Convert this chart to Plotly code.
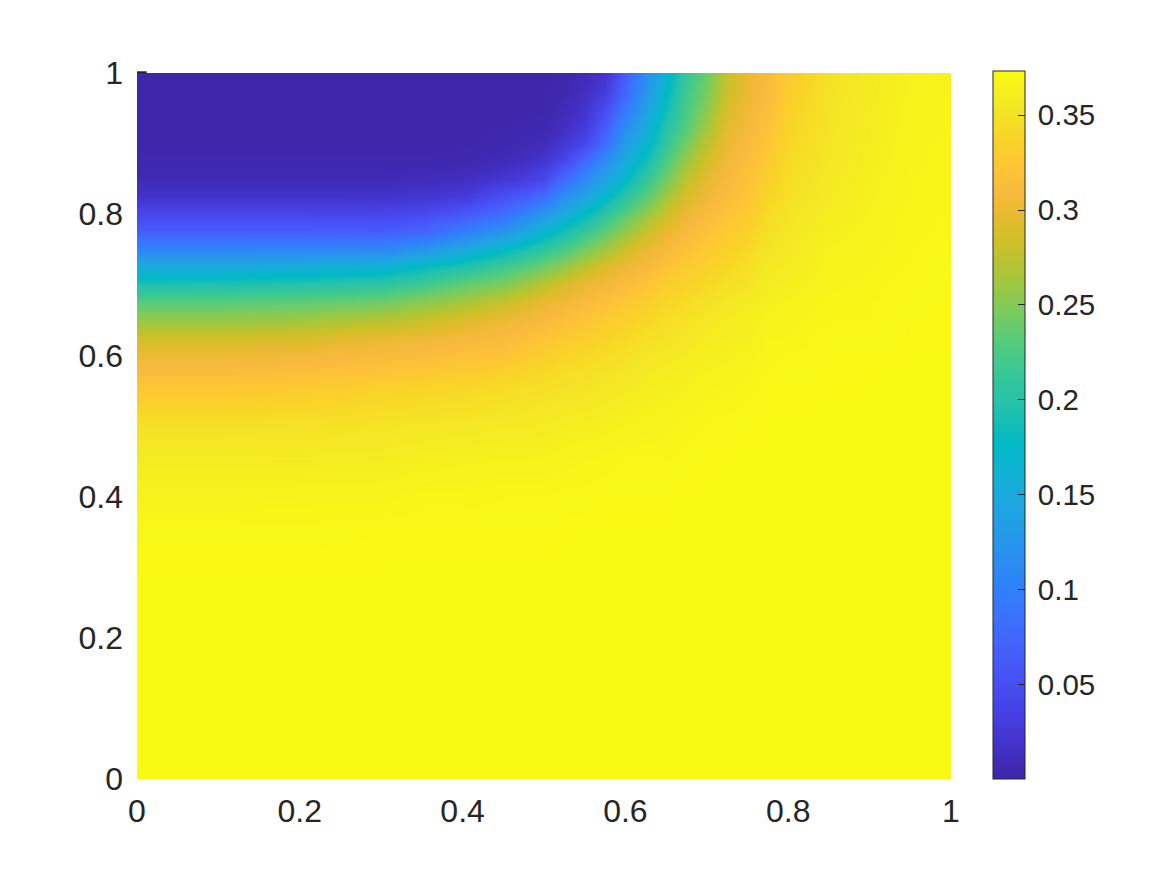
import numpy as np
import plotly.graph_objects as go

# grid, finer where the colours change fast
y_vals = [1, .975, .95, .925, .9, .875, .85, .825, .8, .775, .75, .725, .7, .675,
          .65, .625, .6, .575, .55, .5, .45, .4, .35, .3, .2, .1, 0]
x_vals = [0, .1, .2, .3, .35, .4, .45, .475, .5, .525, .55, .575, .6, .625, .65, .675, .7,
          .725, .75, .775, .8, .85, .9, .95, 1]

# one list per x, top of the plot first
z_x000 = [.002, .002, .002, .002, .002, .003, .007, .02, .041, .0675, .108, .153, .195, .231, .258, .284, .302, .312, .327, .35, .36, .366, .371, .373, .3735, .3735, .3735]
z_x010 = [.002, .002, .002, .002, .002, .003, .007, .02, .041, .0675, .108, .153, .196, .232, .258, .284, .302, .312, .327, .35, .36, .366, .371, .373, .3735, .3735, .3735]
z_x020 = [.002, .002, .002, .002, .002, .003, .007, .02, .041, .0675, .109, .156, .2, .235, .262, .289, .304, .316, .33, .351, .36, .367, .371, .373, .3735, .3735, .3735]
z_x030 = [.002, .002, .002, .002, .002, .003, .007, .02, .04, .066, .11, .164, .207, .242, .272, .299, .31, .322, .338, .353, .361, .367, .372, .373, .3735, .3735, .3735]
z_x035 = [.002, .002, .002, .002, .002, .003, .009, .023, .046, .073, .126, .18, .22, .253, .28, .302, .312, .327, .34, .355, .363, .369, .372, .3735, .3735, .3735, .3735]
z_x040 = [.002, .002, .002, .002, .002, .004, .013, .029, .059, .099, .15, .197, .237, .265, .292, .306, .317, .33, .343, .356, .364, .369, .372, .3735, .3735, .3735, .3735]
z_x045 = [.002, .002, .002, .002, .004, .008, .023, .052, .082, .123, .177, .218, .25, .279, .301, .311, .32, .335, .347, .358, .365, .37, .372, .3735, .3735, .3735, .3735]
z_x0475 = [.002, .002, .002, .003, .006, .014, .031, .065, .103, .145, .193, .231, .262, .29, .305, .316, .326, .339, .349, .358, .365, .37, .372, .3735, .3735, .3735, .3735]
z_x050 = [.002, .002, .002, .004, .01, .023, .042, .082, .126, .168, .209, .244, .274, .3, .309, .321, .332, .343, .35, .359, .365, .37, .372, .3735, .3735, .3735, .3735]
z_x0525 = [.003, .004, .008, .013, .024, .042, .079, .118, .153, .19, .225, .258, .289, .304, .315, .327, .338, .347, .352, .361, .367, .371, .373, .3735, .3735, .3735, .3735]
z_x055 = [.008, .013, .02, .027, .045, .078, .11, .143, .177, .213, .246, .276, .301, .31, .322, .332, .342, .349, .353, .362, .368, .371, .373, .3735, .3735, .3735, .3735]
z_x0575 = [.018, .03, .046, .063, .082, .113, .143, .173, .205, .236, .264, .292, .305, .317, .329, .337, .346, .352, .356, .363, .369, .372, .3735, .3735, .3735, .3735, .3735]
z_x060 = [.065, .073, .092, .113, .133, .154, .175, .204, .232, .258, .284, .302, .312, .325, .334, .343, .349, .354, .358, .365, .37, .372, .3735, .3735, .3735, .3735, .3735]
z_x0625 = [.115, .125, .138, .153, .168, .188, .21, .233, .257, .281, .3, .308, .322, .332, .341, .349, .354, .358, .361, .366, .37, .372, .3735, .3735, .3735, .3735, .3735]
z_x065 = [.165, .174, .185, .198, .212, .226, .243, .263, .282, .3, .307, .32, .331, .34, .347, .351, .356, .36, .363, .367, .37, .372, .3735, .3735, .3735, .3735, .3735]
z_x0675 = [.212, .218, .224, .23, .245, .26, .275, .289, .302, .308, .319, .329, .337, .345, .351, .355, .359, .362, .365, .369, .371, .3735, .3735, .3735, .3735, .3735, .3735]
z_x070 = [.24, .246, .254, .264, .276, .287, .298, .304, .31, .319, .327, .335, .343, .35, .356, .359, .362, .365, .367, .37, .372, .3735, .3735, .3735, .3735, .3735, .3735]
z_x0725 = [.28, .283, .288, .295, .301, .305, .308, .313, .321, .328, .335, .342, .349, .355, .359, .361, .364, .366, .368, .371, .373, .3735, .3735, .3735, .3735, .3735, .3735]
z_x075 = [.30, .301, .303, .306, .31, .314, .319, .323, .328, .336, .342, .349, .353, .358, .361, .363, .366, .368, .369, .372, .3735, .3735, .3735, .3735, .3735, .3735, .3735]
z_x0775 = [.31, .312, .315, .319, .323, .328, .333, .339, .345, .349, .353, .357, .36, .363, .366, .368, .369, .37, .372, .373, .3735, .3735, .3735, .3735, .3735, .3735, .3735]
z_x080 = [.327, .33, .334, .338, .341, .344, .346, .349, .352, .355, .357, .359, .362, .365, .367, .368, .37, .371, .372, .3735, .3735, .3735, .3735, .3735, .3735, .3735, .3735]
z_x085 = [.35, .351, .352, .353, .354, .355, .357, .358, .36, .363, .365, .366, .367, .369, .37, .371, .372, .372, .373, .3735, .3735, .3735, .3735, .3735, .3735, .3735, .3735]
z_x090 = [.358, .359, .36, .36, .361, .362, .363, .364, .365, .366, .367, .368, .369, .37, .37, .371, .372, .373, .373, .3735, .3735, .3735, .3735, .3735, .3735, .3735, .3735]
z_x095 = [.365, .365, .366, .366, .367, .367, .368, .368, .369, .369, .37, .37, .371, .371, .372, .372, .373, .373, .3735, .3735, .3735, .3735, .3735, .3735, .3735, .3735, .3735]
z_x100 = [.367, .367, .368, .368, .369, .369, .37, .37, .37, .371, .371, .372, .372, .372, .373, .373, .373, .3735, .3735, .3735, .3735, .3735, .3735, .3735, .3735, .3735, .3735]

z_cols = [z_x000, z_x010, z_x020, z_x030, z_x035, z_x040, z_x045, z_x0475, z_x050, z_x0525, z_x055, z_x0575,
          z_x060, z_x0625, z_x065, z_x0675, z_x070, z_x0725, z_x075, z_x0775, z_x080, z_x085,
          z_x090, z_x095, z_x100]
z = np.array(z_cols).T

xticks = [0, .2, .4, .6, .8, 1]
yticks = [0, .2, .4, .6, .8, 1]
ticktext = ["0", "0.2", "0.4", "0.6", "0.8", "1"]
cticks = [.05, .1, .15, .2, .25, .3, .35]
# thin space keeps the labels off the bar like in the reference
cticktext = ["\u20090.05", "\u20090.1", "\u20090.15", "\u20090.2", "\u20090.25", "\u20090.3", "\u20090.35"]

# parula
parula_pos = [0, 3, 6, 9, 12, 15, 18, 21, 24, 27, 30, 33, 36, 39, 42, 45, 48, 51, 52, 54, 57, 60, 63]
parula_rgb = [
    (.2422, .1504, .6603), (.2647, .1978, .7952), (.2783, .2559, .8991), (.2810, .3228, .9579),
    (.2699, .3892, .9906), (.2206, .4603, .9973), (.1786, .5289, .9682), (.1540, .5902, .9218),
    (.1248, .6459, .8883), (.0689, .6948, .8394), (.0067, .7312, .7660), (.1408, .7584, .6842),
    (.2161, .7843, .5923), (.3406, .8008, .4789), (.5044, .7993, .3480), (.6720, .7793, .2227),
    (.8203, .7498, .1535), (.9393, .7288, .2100), (.9728, .7298, .2394), (.9970, .7659, .2199),
    (.9786, .8317, .1537), (.9597, .9135, .1423), (.9769, .9839, .0805),
]
parula = [[p / 63, "rgb(%d,%d,%d)" % (r * 255, g * 255, b * 255)]
          for p, (r, g, b) in zip(parula_pos, parula_rgb)]

fig = go.Figure()
fig.add_trace(go.Heatmap(
    x=x_vals, y=y_vals, z=z, zsmooth="best", colorscale=parula, zmin=0.0005, zmax=0.3735,
    colorbar=dict(
        thickness=32, thicknessmode="pixels", len=708, lenmode="pixels",
        x=1.0522, xanchor="left", xpad=0, y=1.0035, yanchor="top", ypad=0,
        tickvals=cticks, ticktext=cticktext, ticks="inside", ticklen=7, tickwidth=1,
        tickcolor="#262626", outlinecolor="#262626", outlinewidth=1,
        tickfont=dict(family="Liberation Sans", size=29.5, color="#262626"),
    ),
))

fig.update_xaxes(range=[0, 1], tickvals=xticks, ticktext=ticktext, ticklabelstandoff=10,
                 showgrid=False, zeroline=False, ticks="", showline=False,
                 tickfont=dict(family="Liberation Sans", size=32, color="#262626"))
fig.update_yaxes(range=[0, 1], tickvals=yticks, ticktext=ticktext, ticklabelstandoff=13,
                 showgrid=False, zeroline=False, ticks="", showline=False,
                 tickfont=dict(family="Liberation Sans", size=32, color="#262626"))

# the one tick that shows above the image, top left
fig.add_shape(type="line", xref="x", yref="paper", x0=0, x1=0.012, y0=1.001, y1=1.001,
              line=dict(color="#262626", width=2))

fig.update_layout(width=1167, height=875, autosize=False, paper_bgcolor="white",
                  plot_bgcolor="white", margin=dict(l=137, r=216, t=73, b=96))

fig.write_html("out.html", config=dict(displayModeBar=False),
               post_script="document.body.style.margin='0';")
